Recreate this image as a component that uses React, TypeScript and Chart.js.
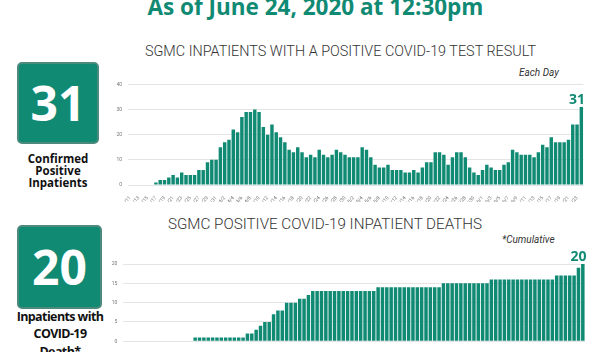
import React, { useEffect, useRef } from "react";
import { Chart, registerables } from "chart.js";
Chart.register(...registerables);

const TEAL = "#118a74";

const dates = [
  "3/11","3/12","3/13","3/14","3/15","3/16","3/17","3/18","3/19","3/20","3/21","3/22","3/23","3/24","3/25","3/26","3/27","3/28","3/29","3/30","3/31",
  "4/1","4/2","4/3","4/4","4/5","4/6","4/7","4/8","4/9","4/10","4/11","4/12","4/13","4/14","4/15","4/16","4/17","4/18","4/19","4/20","4/21","4/22","4/23","4/24","4/25","4/26","4/27","4/28","4/29","4/30",
  "5/1","5/2","5/3","5/4","5/5","5/6","5/7","5/8","5/9","5/10","5/11","5/12","5/13","5/14","5/15","5/16","5/17","5/18","5/19","5/20","5/21","5/22","5/23","5/24","5/25","5/26","5/27","5/28","5/29","5/30","5/31",
  "6/1","6/2","6/3","6/4","6/5","6/6","6/7","6/8","6/9","6/10","6/11","6/12","6/13","6/14","6/15","6/16","6/17","6/18","6/19","6/20","6/21","6/22","6/23","6/24"
];

const inpatients = [
  0,0,0,0,0,0,1,2,2,3,4,3,5,4,4,4,6,6,9,10,10,
  15,17,18,22,21,27,29,29,30,29,23,20,24,21,19,17,14,13,15,13,11,12,11,14,12,11,12,14,13,12,
  11,11,11,15,14,11,8,7,7,8,6,6,6,5,5,6,5,7,9,9,13,13,12,8,11,13,13,11,7,5,4,
  6,8,7,6,6,8,9,14,13,12,12,12,11,13,16,15,19,17,17,17,18,24,24,31
];

const deaths = [
  0,0,0,0,0,0,0,0,0,0,0,0,0,0,0,0,1,1,1,1,1,
  1,1,1,1,1,1,1,2,2,3,4,5,5,7,8,8,10,10,10,11,11,12,13,13,13,13,13,13,13,13,
  13,13,13,13,13,13,13,14,14,14,14,14,14,14,14,14,14,14,14,14,14,14,15,15,15,15,15,15,15,15,15,15,15,
  16,16,16,16,16,16,16,16,16,16,16,16,16,16,16,17,17,17,17,17,19,20
];

const inpatientTicks = [0, 10, 20, 30, 40];
const deathTicks = [0, 5, 10, 15, 20];

const lastLabelPlugin = {
  id: "lastLabel",
  afterDatasetsDraw(chart: any) {
    const meta = chart.getDatasetMeta(0);
    const data = chart.data.datasets[0].data;
    const i = data.length - 1;
    const bar = meta.data[i];
    const ctx = chart.ctx;
    ctx.save();
    ctx.font = "bold 14px 'Open Sans'";
    ctx.fillStyle = TEAL;
    ctx.textAlign = "right";
    ctx.textBaseline = "alphabetic";
    ctx.fillText(String(data[i]), bar.x + bar.width / 2 + 2, bar.y - 3);
    ctx.restore();
  },
};

function BarChart(props: any) {
  const { values, yTicks, left, top, width, height, yWidth, xHeight, padTop, padRight } = props;
  const ref = useRef<HTMLCanvasElement>(null);
  useEffect(() => {
    const chart = new Chart(ref.current as HTMLCanvasElement, {
      type: "bar",
      data: {
        labels: dates,
        datasets: [
          {
            data: values,
            backgroundColor: TEAL,
            barPercentage: 0.8,
            categoryPercentage: 1,
          },
        ],
      },
      options: {
        responsive: false,
        animation: false,
        devicePixelRatio: 1,
        layout: { padding: { top: padTop, right: padRight, left: 0, bottom: 0 } },
        plugins: { legend: { display: false }, tooltip: { enabled: false } },
        scales: {
          x: {
            grid: { display: false },
            border: { display: false },
            ticks: {
              autoSkip: false,
              maxRotation: 50,
              minRotation: 50,
              padding: 2,
              color: "#777",
              font: { size: 5, family: "Roboto" },
              callback: (_v: any, i: number) => (i % 2 === 0 ? dates[i] : ""),
            },
            afterFit: (s: any) => {
              s.height = xHeight;
              s.paddingLeft = 0;
              s.paddingRight = 0;
            },
          },
          y: {
            min: yTicks[0],
            max: yTicks[yTicks.length - 1],
            ticks: {
              stepSize: yTicks[1] - yTicks[0],
              padding: 6,
              color: "#777",
              font: { size: 5, family: "Roboto" },
            },
            grid: { color: "#e4e4e4", drawTicks: false, lineWidth: 1 },
            border: { display: false },
            afterFit: (s: any) => {
              s.width = yWidth;
              s.paddingTop = 0;
              s.paddingBottom = 0;
            },
          },
        },
      },
      plugins: [lastLabelPlugin],
    } as any);
    return () => chart.destroy();
  }, []);
  return (
    <canvas
      ref={ref}
      width={width}
      height={height}
      style={{ position: "absolute", left, top, width, height }}
    />
  );
}

const abs = (o: any) => ({ position: "absolute" as const, whiteSpace: "nowrap" as const, margin: 0, ...o });

export default function App() {
  return (
    <div
      style={{
        position: "fixed",
        left: 0,
        top: 0,
        width: 597,
        height: 352,
        overflow: "hidden",
        background: "#fff",
      }}
    >
      <div
        style={abs({
          left: 0,
          width: 631,
          top: -4.5,
          textAlign: "center",
          font: "bold 22.5px/22.5px 'Open Sans'",
          color: TEAL,
        })}
      >
        As of June 24, 2020 at 12:30pm
      </div>

      <div
        style={abs({
          left: 0,
          width: 681,
          top: 45,
          textAlign: "center",
          font: "300 14.4px/14.4px Roboto",
          color: "#333",
        })}
      >
        SGMC INPATIENTS WITH A POSITIVE COVID-19 TEST RESULT
      </div>
      <div style={abs({ left: 519, top: 68, font: "italic 10px/10px Roboto", color: "#333" })}>Each Day</div>

      <div
        style={abs({
          left: 0,
          width: 650,
          top: 217.2,
          textAlign: "center",
          font: "300 15.2px/15.2px Roboto",
          color: "#333",
        })}
      >
        SGMC POSITIVE COVID-19 INPATIENT DEATHS
      </div>
      <div style={abs({ left: 502, top: 235, font: "italic 10px/10px Roboto", color: "#333" })}>*Cumulative</div>

      <div
        style={abs({
          left: 17,
          top: 62,
          width: 82,
          height: 82,
          boxSizing: "border-box",
          background: TEAL,
          border: "2px solid #4d8a7e",
          borderRadius: 5,
          color: "#fff",
          font: "bold 48px/78px 'Open Sans'",
          textAlign: "center",
        })}
      >
        31
      </div>
      <div
        style={abs({
          left: 0,
          width: 116,
          top: 152.5,
          textAlign: "center",
          font: "bold 11.5px/12px 'Open Sans'",
          color: "#111",
        })}
      >
        Confirmed
        <br />
        Positive
        <br />
        Inpatients
      </div>

      <div
        style={abs({
          left: 17,
          top: 225,
          width: 85,
          height: 84,
          boxSizing: "border-box",
          background: TEAL,
          border: "2px solid #4d8a7e",
          borderRadius: 5,
          color: "#fff",
          font: "bold 48px/80px 'Open Sans'",
          textAlign: "center",
        })}
      >
        20
      </div>
      <div
        style={abs({
          left: 0,
          width: 120,
          top: 307.5,
          textAlign: "center",
          font: "bold 12.5px/17.5px 'Open Sans'",
          letterSpacing: "-0.6px",
          color: "#111",
        })}
      >
        Inpatients with
        <br />
        COVID-19
        <br />
        Death*
      </div>

      <BarChart
        values={inpatients}
        yTicks={inpatientTicks}
        left={100}
        top={70}
        width={497}
        height={132}
        yWidth={28}
        xHeight={17}
        padTop={14.3}
        padRight={13.5}
      />
      <BarChart
        values={deaths}
        yTicks={deathTicks}
        left={96}
        top={250}
        width={501}
        height={120}
        yWidth={27.3}
        xHeight={28.7}
        padTop={14}
        padRight={12}
      />
    </div>
  );
}
